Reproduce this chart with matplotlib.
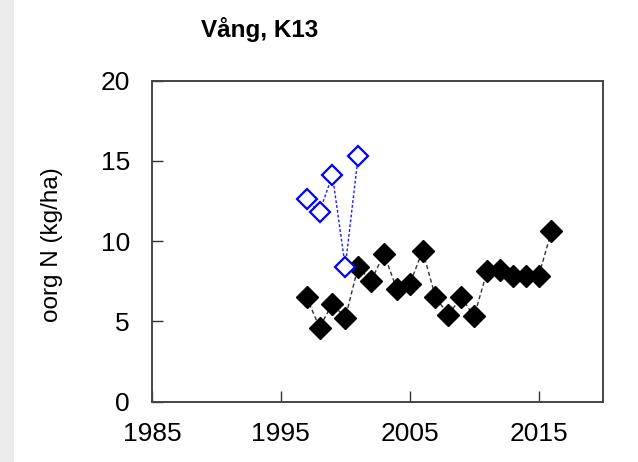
import matplotlib.pyplot as plt
from matplotlib.patches import Rectangle

plt.rcParams['font.family'] = ['Liberation Sans', 'DejaVu Sans']

years = list(range(1997, 2017))
org_n = [6.5, 4.6, 6.1, 5.2, 8.4, 7.5, 9.2, 7.0, 7.3, 9.4,
         6.5, 5.4, 6.5, 5.3, 8.1, 8.2, 7.8, 7.8, 7.8, 10.6]

years_old = [1997, 1998, 1999, 2000, 2001]
org_n_old = [12.6, 11.8, 14.1, 8.4, 15.3]

fig = plt.figure(figsize=(6.38, 4.62), dpi=100)
fig.patches.append(Rectangle((0, 0), 14 / 638, 1, transform=fig.transFigure,
                             facecolor='#ececec', edgecolor='none', zorder=-1))

ax = fig.add_axes([152 / 638, 60.5 / 462, 451 / 638, 321 / 462])

ax.plot(years, org_n, linestyle=(0, (3, 2)), color='#333333', linewidth=1.0,
        marker='D', markersize=11.5, markerfacecolor='black',
        markeredgecolor='black', zorder=3)
ax.plot(years_old, org_n_old, linestyle=(0, (2, 1.5)), color='#1a1aff', linewidth=1.0,
        marker='D', markersize=10.5, markerfacecolor='white',
        markeredgecolor='#0000ff', markeredgewidth=1.6, zorder=4)

ax.set_xlim(1985, 2020)
ax.set_ylim(0, 20)
ax.set_xticks([1985, 1995, 2005, 2015])
ax.set_yticks([0, 5, 10, 15, 20])

for s in ax.spines.values():
    s.set_color('#444444')
    s.set_linewidth(1.4)

ax.tick_params(axis='both', direction='in', length=8, width=1.0,
               color='#333333', labelsize=19)
ax.tick_params(axis='y', pad=16)
ax.tick_params(axis='x', pad=15)

ax.set_ylabel('oorg N (kg/ha)', fontsize=17.5)
ax.yaxis.set_label_coords(-0.197, 0.49)

fig.text(260 / 638, 1 - 37 / 462, 'Vång, K13', fontsize=17.5, fontweight='bold',
         ha='center', va='baseline')

fig.savefig('out.png', dpi=100)
